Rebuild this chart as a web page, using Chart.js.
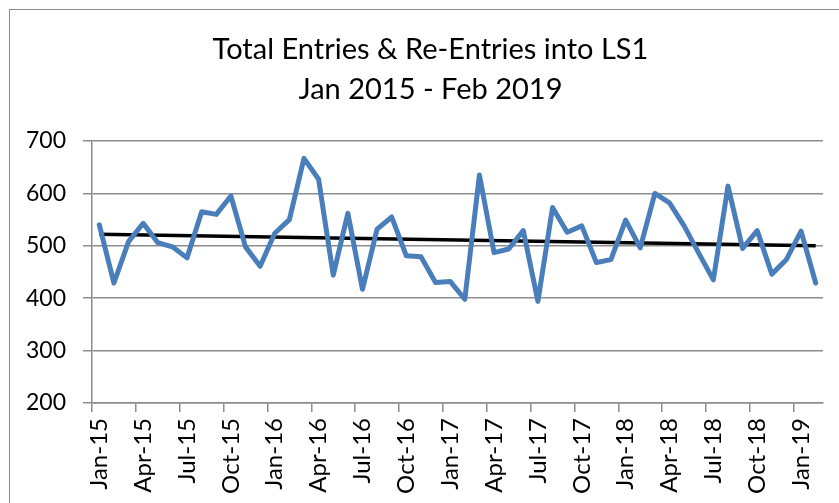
<!DOCTYPE html>
<html>
<head>
<meta charset="utf-8">
<script src="https://cdn.jsdelivr.net/npm/chart.js@4.4.0/dist/chart.umd.min.js"></script>
<style>
  html, body { margin: 0; padding: 0; background: #fff; }
  #wrap { position: relative; width: 839px; height: 503px; overflow: hidden; }
  #frame { position: absolute; left: 9px; top: 9px; width: 900px; height: 600px; border: 1px solid #8a8a8a; }
  #lineChart { position: absolute; left: 0; top: 0; }
</style>
</head>
<body>
<div id="wrap">
  <div id="frame"></div>
  <canvas id="lineChart" width="839" height="503"></canvas>
</div>
<script>
const labels = [
    'Jan-15', 'Feb-15', 'Mar-15', 'Apr-15', 'May-15', 'Jun-15', 'Jul-15', 'Aug-15', 'Sep-15', 'Oct-15', 'Nov-15', 'Dec-15',
    'Jan-16', 'Feb-16', 'Mar-16', 'Apr-16', 'May-16', 'Jun-16', 'Jul-16', 'Aug-16', 'Sep-16', 'Oct-16', 'Nov-16', 'Dec-16',
    'Jan-17', 'Feb-17', 'Mar-17', 'Apr-17', 'May-17', 'Jun-17', 'Jul-17', 'Aug-17', 'Sep-17', 'Oct-17', 'Nov-17', 'Dec-17',
    'Jan-18', 'Feb-18', 'Mar-18', 'Apr-18', 'May-18', 'Jun-18', 'Jul-18', 'Aug-18', 'Sep-18', 'Oct-18', 'Nov-18', 'Dec-18',
    'Jan-19', 'Feb-19'
];

const entries = [
    540, 429, 508, 543, 506, 498, 477, 565, 560, 595, 498, 461,
    524, 550, 667, 627, 444, 562, 417, 532, 555, 481, 479, 430,
    432, 398, 635, 487, 494, 529, 394, 573, 526, 538, 468, 474,
    549, 496, 600, 582, 538, 486, 435, 614, 495, 529, 446, 474,
    528, 429
];

// linear trendline, start and end values
const trendEnds = [522, 500];

const yTicks = [200, 300, 400, 500, 600, 700];

const trend = labels.map((_, i) => {
    if (i === 0) return trendEnds[0];
    if (i === labels.length - 1) return trendEnds[1];
    return null;
});

const axisGray = '#8c8c8c';
const fontFamily = 'Lato, "Open Sans", sans-serif';

// Excel centres the title on the whole chart box, which runs past the crop on the right
const titleShift = {
    id: 'titleShift',
    afterLayout(chart) {
        if (chart.titleBlock) {
            chart.titleBlock.left += 19;
            chart.titleBlock.right += 19;
        }
    }
};

const ctx = document.getElementById('lineChart').getContext('2d');

new Chart(ctx, {
    type: 'line',
    data: {
        labels: labels,
        datasets: [
            {
                label: 'Entries & Re-Entries',
                data: entries,
                borderColor: '#4A7EBB',
                backgroundColor: '#4A7EBB',
                borderWidth: 5,
                borderJoinStyle: 'round',
                borderCapStyle: 'round',
                pointRadius: 0,
                tension: 0
            },
            {
                label: 'Linear trend',
                data: trend,
                borderColor: '#000',
                backgroundColor: '#000',
                borderWidth: 3.5,
                pointRadius: 0,
                spanGaps: true
            }
        ]
    },
    plugins: [titleShift],
    options: {
        responsive: false,
        animation: false,
        layout: { padding: { left: 0, right: 16, top: 0, bottom: 0 } },
        plugins: {
            legend: { display: false },
            tooltip: { enabled: false },
            title: {
                display: true,
                text: ['Total Entries & Re-Entries into LS1', 'Jan 2015 - Feb 2019'],
                color: '#000',
                font: { family: fontFamily, size: 29, weight: 'normal', lineHeight: 1.38 },
                padding: { top: 30, bottom: 31 }
            }
        },
        scales: {
            x: {
                offset: true,
                grid: {
                    offset: true,
                    drawOnChartArea: false,
                    drawTicks: true,
                    tickLength: 9,
                    lineWidth: 1.5,
                    color: (c) => c.index % 3 === 0 ? axisGray : 'rgba(0,0,0,0)'
                },
                border: { color: axisGray, width: 1.5 },
                ticks: {
                    autoSkip: false,
                    maxRotation: 90,
                    minRotation: 90,
                    padding: 6,
                    color: '#000',
                    font: { family: fontFamily, size: 24 },
                    callback: function (value, i) {
                        return i % 3 === 0 ? labels[i] : '';
                    }
                },
                afterFit: function (scale) {
                    scale.height = 100;
                    scale.paddingLeft = 0;
                    scale.paddingRight = 0;
                }
            },
            y: {
                min: yTicks[0],
                max: yTicks[yTicks.length - 1],
                grid: { color: axisGray, lineWidth: 1.5, tickLength: 9 },
                border: { color: axisGray, width: 1.5 },
                ticks: {
                    stepSize: yTicks[1] - yTicks[0],
                    padding: 17,
                    color: '#000',
                    font: { family: fontFamily, size: 23 }
                },
                afterFit: function (scale) { scale.width = 92; }
            }
        }
    }
});
</script>
</body>
</html>
